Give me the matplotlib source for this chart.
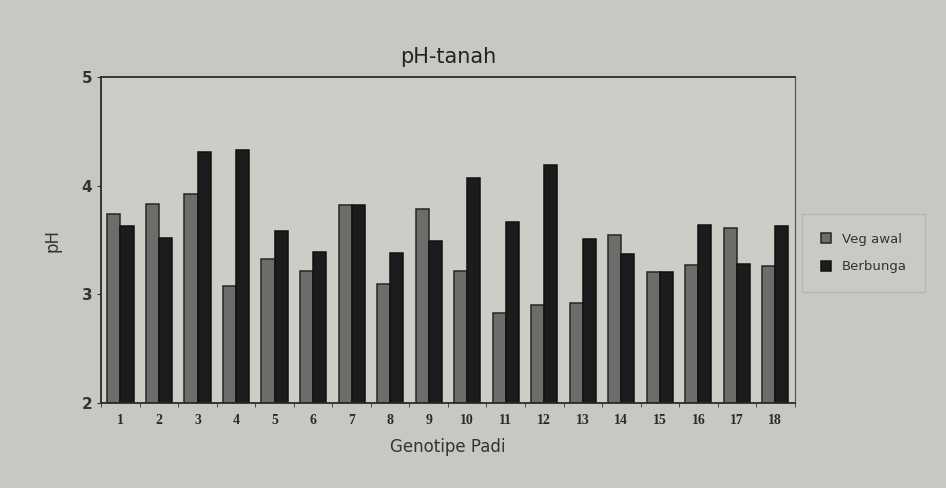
import numpy as np
import matplotlib.pyplot as plt

# Data
genotypes = [str(i) for i in range(1, 19)]
veg_awal = [3.74, 3.83, 3.92, 3.08, 3.33, 3.22, 3.82, 3.10, 3.79,
            3.22, 2.83, 2.90, 2.92, 3.55, 3.21, 3.27, 3.61, 3.26]
berbunga = [3.63, 3.52, 4.31, 4.33, 3.58, 3.39, 3.82, 3.38, 3.49,
            4.07, 3.67, 4.19, 3.51, 3.37, 3.21, 3.64, 3.28, 3.63]

bg = "#c8c8c3"
fig = plt.figure(figsize=(9.46, 4.88), dpi=100, facecolor=bg)
ax = fig.add_axes([0.107, 0.174, 0.733, 0.668], facecolor="#cdcdc8")

x = np.arange(1, len(genotypes) + 1)
w = 0.34
ax.bar(x - w / 2, np.array(veg_awal) - 2, w, bottom=2, color="#6c6c6a",
       edgecolor="#262626", linewidth=1.1, label="Veg awal")
ax.bar(x + w / 2, np.array(berbunga) - 2, w, bottom=2, color="#1c1c1c",
       edgecolor="#111111", linewidth=1.1, label="Berbunga")

ax.set_xlim(0.5, 18.5)
ax.set_ylim(2, 5)
ax.set_yticks([2, 3, 4, 5])
ax.set_xticks(x)
ax.set_xticks(np.arange(0.5, 19, 1), minor=True)
ax.set_xticklabels(genotypes, family="Liberation Serif", fontsize=10,
                   fontweight="bold", color="#2a2a2a")
for lbl in ax.get_yticklabels():
    lbl.set_fontsize(11)
    lbl.set_fontweight("bold")
    lbl.set_color("#333333")
ax.tick_params(axis="x", which="major", length=0, pad=8)
ax.tick_params(axis="x", which="minor", length=3, color="#333333")
ax.tick_params(axis="y", length=3, color="#333333")
for s in ax.spines.values():
    s.set_color("#2a2a2a")
    s.set_linewidth(1.3)
ax.spines["right"].set_linewidth(0.9)
ax.spines["right"].set_color("#555555")

ax.set_title("pH-tanah", fontsize=15, color="#222222", pad=10)
ax.set_xlabel("Genotipe Padi", fontsize=12, color="#333333", labelpad=8)
ax.set_ylabel("pH", fontsize=12, color="#333333", labelpad=14)

leg = ax.legend(loc="center left", bbox_to_anchor=(1.005, 0.46), frameon=True,
                fontsize=9.5, handlelength=0.8, handleheight=0.8,
                borderpad=1.4, labelspacing=1.1, fancybox=False,
                borderaxespad=0.3)
leg.get_frame().set_facecolor("#cbcbc6")
leg.get_frame().set_edgecolor("#b3b3ae")
for t in leg.get_texts():
    t.set_color("#333333")

fig.savefig("out.png", dpi=100, facecolor=bg)
